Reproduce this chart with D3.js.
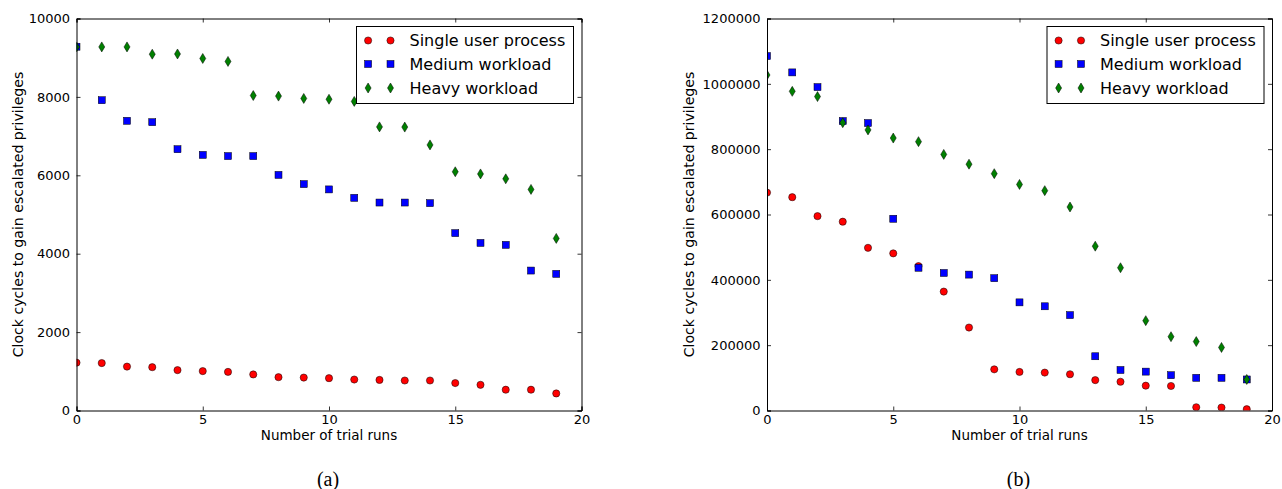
<!DOCTYPE html>
<meta charset="utf-8">
<style>
  body { margin: 0; background: #fff; }
  text { font-family: "DejaVu Sans", sans-serif; fill: #000; }
</style>
<script src="https://cdn.jsdelivr.net/npm/d3@7"></script>
<body>
<div id="chart"></div>
<script>
  // trial runs (x) and tick labels
  var trialRuns = [0, 1, 2, 3, 4, 5, 6, 7, 8, 9, 10, 11, 12, 13, 14, 15, 16, 17, 18, 19];
  var xTicks = [0, 5, 10, 15, 20];
  var yTicksA = [0, 2000, 4000, 6000, 8000, 10000];
  var yTicksB = [0, 200000, 400000, 600000, 800000, 1000000, 1200000];

  var seriesNames = ["Single user process", "Medium workload", "Heavy workload"];

  // panel (a)
  var singleA = [1220, 1210, 1120, 1105, 1030, 1005, 985, 920, 850, 840, 825, 790, 780, 765, 765, 700, 655, 530, 530, 435];
  var mediumA = [9280, 7915, 7390, 7355, 6665, 6520, 6490, 6490, 6010, 5775, 5640, 5425, 5305, 5305, 5290, 4525, 4275, 4225, 3570, 3485];
  var heavyA = [9275, 9275, 9275, 9090, 9095, 8980, 8905, 8035, 8020, 7960, 7940, 7885, 7235, 7230, 6775, 6090, 6035, 5910, 5640, 4390];

  // panel (b)
  var singleB = [667000, 653000, 595000, 578000, 498000, 481000, 442000, 364000, 254000, 126000, 118000, 116000, 111000, 93000, 88000, 76000, 75000, 10000, 9000, 4000];
  var mediumB = [1085000, 1035000, 990000, 886000, 880000, 587000, 437000, 421000, 416000, 405000, 331000, 319000, 292000, 166000, 124000, 119000, 108000, 100000, 100000, 95000];
  var heavyB = [1027000, 977000, 961000, 881000, 859000, 834000, 823000, 784000, 754000, 725000, 692000, 673000, 623000, 503000, 437000, 275000, 226000, 211000, 193000, 95000];

  var colors = ["#ff0000", "#0000ff", "#008000"];
  var shapes = ["circle", "square", "diamond"];

  var svg = d3.select("#chart")
    .append("svg")
    .attr("width", 1282)
    .attr("height", 489);

  // draw a marker at (0,0) inside group g
  function marker(g, shape, color) {
    if (shape == "circle") {
      g.append("circle").attr("r", 3.6)
        .attr("fill", color).attr("stroke", "#000").attr("stroke-width", 0.5);
    } else if (shape == "square") {
      g.append("rect").attr("x", -3.5).attr("y", -3.5).attr("width", 7).attr("height", 7)
        .attr("fill", color).attr("stroke", "#000").attr("stroke-width", 0.5);
    } else {
      g.append("path").attr("d", "M0,-5L3,0L0,5L-3,0Z")
        .attr("fill", color).attr("stroke", "#000").attr("stroke-width", 0.5);
    }
  }

  function drawPanel(id, left, top, w, h, yMax, yTicks, series, caption, ylabelX) {
    var x = d3.scaleLinear().domain([0, 20]).range([0, w]);
    var y = d3.scaleLinear().domain([0, yMax]).range([h, 0]);

    var g = svg.append("g").attr("transform", "translate(" + left + "," + top + ")");

    g.append("clipPath").attr("id", "clip" + id)
      .append("rect").attr("width", w).attr("height", h);

    // points
    var pts = g.append("g").attr("clip-path", "url(#clip" + id + ")");
    series.forEach(function (vals, i) {
      pts.selectAll(".p" + i)
        .data(trialRuns)
        .enter()
        .append("g")
        .attr("transform", function (d) { return "translate(" + x(d) + "," + y(vals[d]) + ")" })
        .each(function () { marker(d3.select(this), shapes[i], colors[i]) });
    });

    // axes (ticks inside, on all four sides)
    g.append("g").attr("transform", "translate(0," + h + ")")
      .call(d3.axisBottom(x).tickValues(xTicks).tickSize(-4).tickPadding(4.5).tickFormat(d3.format("d")));
    g.append("g")
      .call(d3.axisTop(x).tickValues(xTicks).tickSize(-4).tickFormat(""));
    g.append("g")
      .call(d3.axisLeft(y).tickValues(yTicks).tickSize(-4).tickPadding(6.5).tickFormat(d3.format("d")));
    g.append("g").attr("transform", "translate(" + w + ",0)")
      .call(d3.axisRight(y).tickValues(yTicks).tickSize(-4).tickFormat(""));

    g.selectAll(".domain").attr("stroke", "#000").attr("stroke-width", 1);
    g.selectAll(".tick line").attr("stroke", "#000").attr("stroke-width", 0.8);
    g.selectAll(".tick text").style("font-size", "13px").style("font-family", "DejaVu Sans").attr("fill", "#000");

    // axis labels
    g.append("text")
      .attr("x", w / 2).attr("y", h + 29.5)
      .attr("text-anchor", "middle")
      .style("font-size", "13.5px")
      .text("Number of trial runs");

    g.append("text")
      .attr("transform", "translate(" + ylabelX + "," + (h / 2) + ") rotate(-90)")
      .attr("text-anchor", "middle")
      .style("font-size", "14.1px")
      .text("Clock cycles to gain escalated privileges");

    // legend
    var lw = 217, lh = 77;
    var lg = g.append("g").attr("transform", "translate(" + (w - 8 - lw) + ",8)");
    lg.append("rect").attr("width", lw).attr("height", lh)
      .attr("fill", "#fff").attr("stroke", "#000").attr("stroke-width", 1);
    var rowY = [14, 37.5, 61.5];
    seriesNames.forEach(function (name, i) {
      [11.6, 34].forEach(function (mx) {
        var mg = lg.append("g").attr("transform", "translate(" + mx + "," + rowY[i] + ")");
        marker(mg, shapes[i], colors[i]);
      });
      lg.append("text")
        .attr("x", 53).attr("y", rowY[i])
        .attr("dy", "0.36em")
        .style("font-size", "16px")
        .text(name);
    });

    // caption
    svg.append("text")
      .attr("x", left + w / 2 - 1).attr("y", 486)
      .attr("text-anchor", "middle")
      .style("font-family", "Liberation Serif, serif")
      .style("font-size", "20px")
      .text(caption);
  }

  drawPanel("a", 76.5, 18.5, 505, 392, 10000, yTicksA, [singleA, mediumA, heavyA], "(a)", -54);
  drawPanel("b", 767, 18.5, 505, 392, 1200000, yTicksB, [singleB, mediumB, heavyB], "(b)", -73.5);
</script>
</body>
